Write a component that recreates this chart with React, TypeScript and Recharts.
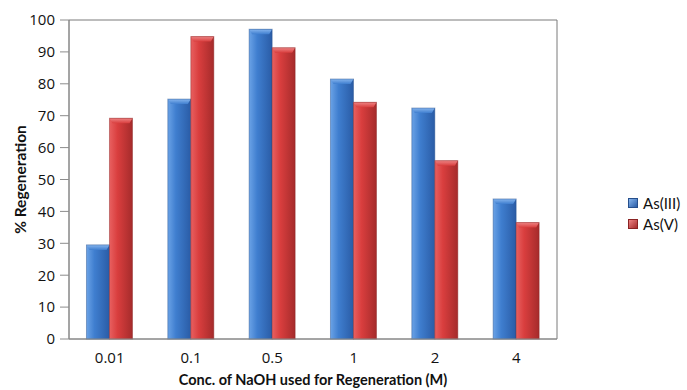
import {
  BarChart,
  Bar,
  XAxis,
  YAxis,
  Legend,
  ReferenceArea,
} from 'recharts'

const categories = ['0.01', '0.1', '0.5', '1', '2', '4']
const asIII = [29.5, 75.2, 97.1, 81.5, 72.4, 43.9]
const asV = [69.2, 94.8, 91.3, 74.2, 55.9, 36.5]
const yTicks = [0, 10, 20, 30, 40, 50, 60, 70, 80, 90, 100]

const data = categories.map((name, i) => ({ name, asIII: asIII[i], asV: asV[i] }))

const FONT = 'Lato, "Open Sans", sans-serif'
const TICK_FONT = '"Open Sans", sans-serif'
const AXIS = '#8c8c8c'

const palette = {
  blue: { light: '#6aa2e6', mid: '#3f7ecf', dark: '#2a5ca6', cap: '#86b5ee', edge: '#264f8c' },
  red: { light: '#e86060', mid: '#d93e3e', dark: '#a52b2b', cap: '#ee8484', edge: '#8a2323' },
}

// bevelled bar: horizontal gradient body + lighter cap on the top
function makeShape(kind: 'blue' | 'red') {
  // eslint-disable-next-line @typescript-eslint/no-explicit-any
  return function BevelBar(props: any) {
    const { x, y, width, height } = props
    if (!height || height <= 0) return null
    const c = palette[kind]
    const cap = Math.min(5, height)
    const inset = 3
    return (
      <g>
        <rect x={x} y={y} width={width} height={height} fill={`url(#grad-${kind})`} />
        <polygon
          points={`${x},${y} ${x + width},${y} ${x + width - inset},${y + cap} ${x + inset},${y + cap}`}
          fill={`url(#cap-${kind})`}
        />
        <rect x={x} y={y} width={width} height={height} fill="none" stroke={c.edge} strokeOpacity={0.45} strokeWidth={1} />
      </g>
    )
  }
}

const BlueBar = makeShape('blue')
const RedBar = makeShape('red')

function LegendBox() {
  const items = [
    { label: 'As(III)', kind: 'blue' as const },
    { label: 'As(V)', kind: 'red' as const },
  ]
  return (
    <div style={{ fontFamily: FONT, fontSize: 15, color: '#111' }}>
      {items.map((it) => (
        <div key={it.label} style={{ display: 'flex', alignItems: 'center', height: 21 }}>
          <span
            style={{
              display: 'inline-block',
              width: 8,
              height: 8,
              marginRight: 5,
              background: `linear-gradient(135deg, ${palette[it.kind].cap}, ${palette[it.kind].dark})`,
              border: `1px solid ${palette[it.kind].edge}`,
            }}
          />
          {it.label}
        </div>
      ))}
    </div>
  )
}

export default function App() {
  return (
    <div style={{ position: 'absolute', left: 0, top: 0, background: '#fff' }}>
      <BarChart
        width={687}
        height={390}
        data={data}
        margin={{ top: 20, right: 70, left: 0, bottom: 0 }}
        barCategoryGap="21.5%"
        barGap={0}
      >
        <defs>
          {(['blue', 'red'] as const).map((k) => (
            <linearGradient key={k} id={`grad-${k}`} x1="0" y1="0" x2="1" y2="0">
              <stop offset="0%" stopColor={palette[k].light} />
              <stop offset="35%" stopColor={palette[k].mid} />
              <stop offset="100%" stopColor={palette[k].dark} />
            </linearGradient>
          ))}
          {(['blue', 'red'] as const).map((k) => (
            <linearGradient key={`c${k}`} id={`cap-${k}`} x1="0" y1="0" x2="0" y2="1">
              <stop offset="0%" stopColor={palette[k].cap} />
              <stop offset="100%" stopColor={palette[k].mid} />
            </linearGradient>
          ))}
        </defs>
        <ReferenceArea y1={0} y2={100} fill="none" stroke="#7a7a7a" strokeWidth={1} ifOverflow="visible" />
        <XAxis
          dataKey="name"
          height={51}
          tickLine={false}
          tickSize={6}
          tickMargin={7}
          stroke={AXIS}
          tick={{ fill: '#111', fontSize: 15, fontFamily: TICK_FONT }}
          label={{
            value: 'Conc. of NaOH used for Regeneration (M)',
            position: 'insideBottom',
            offset: 5,
            style: { fill: '#111', fontSize: 14.5, fontWeight: 700, fontFamily: FONT },
          }}
        />
        <YAxis
          domain={[0, 100]}
          ticks={yTicks}
          width={69}
          tickSize={9}
          tickMargin={5}
          stroke={AXIS}
          tick={{ fill: '#111', fontSize: 15, fontFamily: TICK_FONT }}
          label={{
            value: '% Regeneration',
            angle: -90,
            position: 'insideLeft',
            offset: 20,
            style: { textAnchor: 'middle', fill: '#111', fontSize: 15.5, fontWeight: 700, fontFamily: FONT },
          }}
        />
        <Legend
          layout="vertical"
          align="right"
          verticalAlign="middle"
          content={() => <LegendBox />}
          wrapperStyle={{ left: 628, top: 192, width: 60 }}
        />
        <Bar dataKey="asIII" name="As(III)" fill="#3f7ecf" shape={BlueBar} isAnimationActive={false} />
        <Bar dataKey="asV" name="As(V)" fill="#d93e3e" shape={RedBar} isAnimationActive={false} />
      </BarChart>
    </div>
  )
}
